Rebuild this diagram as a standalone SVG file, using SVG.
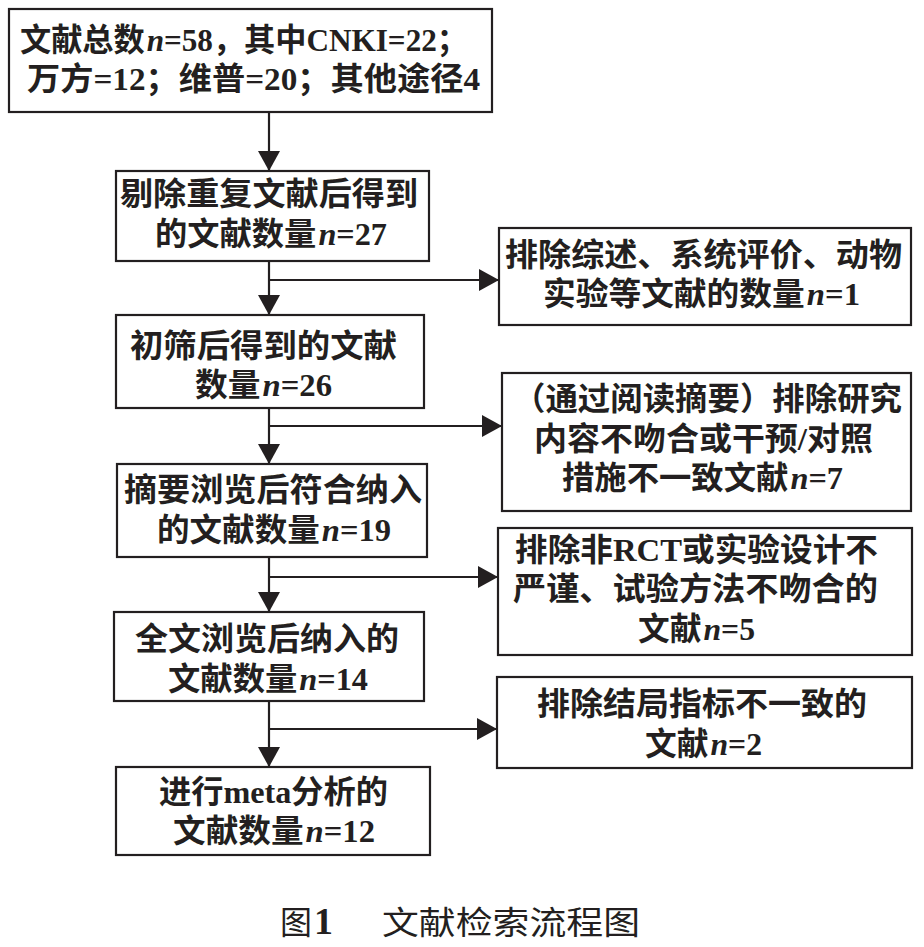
<svg xmlns="http://www.w3.org/2000/svg" width="924" height="947" viewBox="0 0 924 947">
<style>
.box{fill:#fff;stroke:#231f20;stroke-width:2.2}
.t{font-family:"Liberation Serif","Noto Sans CJK SC",serif;font-size:32px;font-weight:bold;fill:#231f20}
.n{font-style:italic}
.cap{font-family:"Liberation Serif","Noto Sans CJK SC",serif;font-size:32px;fill:#231f20}
.ln{fill:none;stroke:#231f20;stroke-width:2.2}
</style>
<defs>
<marker id="ah" markerUnits="userSpaceOnUse" markerWidth="22" markerHeight="22" refX="20" refY="11" orient="auto" viewBox="0 0 22 22">
<path d="M0,0 L20,11 L0,22 z" fill="#231f20"/>
</marker>
</defs>
<rect width="924" height="947" fill="#fff"/>
<g id="connectors">
<line class="ln" x1="269" y1="112" x2="269" y2="171" marker-end="url(#ah)"/>
<line class="ln" x1="269" y1="261" x2="269" y2="315" marker-end="url(#ah)"/>
<line class="ln" x1="269" y1="280" x2="499" y2="280" marker-end="url(#ah)"/>
<line class="ln" x1="269" y1="408" x2="269" y2="464" marker-end="url(#ah)"/>
<line class="ln" x1="269" y1="426" x2="502" y2="426" marker-end="url(#ah)"/>
<line class="ln" x1="269" y1="557" x2="269" y2="612" marker-end="url(#ah)"/>
<line class="ln" x1="269" y1="577" x2="498" y2="577" marker-end="url(#ah)"/>
<line class="ln" x1="269" y1="701" x2="269" y2="767" marker-end="url(#ah)"/>
<line class="ln" x1="269" y1="729" x2="497" y2="729" marker-end="url(#ah)"/>
</g>
<g id="n1">
<rect class="box" x="9" y="9" width="483" height="103"/>
<text class="t" x="20" y="51" textLength="448" lengthAdjust="spacingAndGlyphs">文献总数<tspan class="n" dx="2">n</tspan>=58，其中CNKI=22；</text>
<text class="t" x="27" y="90" textLength="453" lengthAdjust="spacingAndGlyphs">万方=12；维普=20；其他途径4</text>
</g>
<g id="n2">
<rect class="box" x="116" y="171" width="313" height="90"/>
<text class="t" x="120" y="205" textLength="298" lengthAdjust="spacingAndGlyphs">剔除重复文献后得到</text>
<text class="t" x="155" y="245" textLength="232" lengthAdjust="spacingAndGlyphs">的文献数量<tspan class="n" dx="2">n</tspan>=27</text>
</g>
<g id="n3">
<rect class="box" x="116" y="315" width="308" height="93"/>
<text class="t" x="130" y="357" textLength="267" lengthAdjust="spacingAndGlyphs">初筛后得到的文献</text>
<text class="t" x="195" y="396" textLength="137" lengthAdjust="spacingAndGlyphs">数量<tspan class="n" dx="2">n</tspan>=26</text>
</g>
<g id="n4">
<rect class="box" x="117" y="464" width="310" height="93"/>
<text class="t" x="124" y="501" textLength="298" lengthAdjust="spacingAndGlyphs">摘要浏览后符合纳入</text>
<text class="t" x="157" y="541" textLength="234" lengthAdjust="spacingAndGlyphs">的文献数量<tspan class="n" dx="2">n</tspan>=19</text>
</g>
<g id="n5">
<rect class="box" x="114" y="612" width="310" height="89"/>
<text class="t" x="135" y="650" textLength="264" lengthAdjust="spacingAndGlyphs">全文浏览后纳入的</text>
<text class="t" x="168" y="690" textLength="200" lengthAdjust="spacingAndGlyphs">文献数量<tspan class="n" dx="2">n</tspan>=14</text>
</g>
<g id="n6">
<rect class="box" x="116" y="767" width="314" height="88"/>
<text class="t" x="159" y="803" textLength="229" lengthAdjust="spacingAndGlyphs">进行meta分析的</text>
<text class="t" x="173" y="842" textLength="202" lengthAdjust="spacingAndGlyphs">文献数量<tspan class="n" dx="2">n</tspan>=12</text>
</g>
<g id="r1">
<rect class="box" x="499" y="228" width="412" height="97"/>
<text class="t" x="505" y="266" textLength="397" lengthAdjust="spacingAndGlyphs">排除综述、系统评价、动物</text>
<text class="t" x="543" y="305" textLength="317" lengthAdjust="spacingAndGlyphs">实验等文献的数量<tspan class="n" dx="2">n</tspan>=1</text>
</g>
<g id="r2">
<rect class="box" x="502" y="373" width="409" height="138"/>
<text class="t" x="513" y="410" textLength="389" lengthAdjust="spacingAndGlyphs">（通过阅读摘要）排除研究</text>
<text class="t" x="534" y="450" textLength="339" lengthAdjust="spacingAndGlyphs">内容不吻合或干预/对照</text>
<text class="t" x="562" y="489" textLength="281" lengthAdjust="spacingAndGlyphs">措施不一致文献<tspan class="n" dx="2">n</tspan>=7</text>
</g>
<g id="r3">
<rect class="box" x="498" y="528" width="414" height="127"/>
<text class="t" x="515" y="561" textLength="363" lengthAdjust="spacingAndGlyphs">排除非RCT或实验设计不</text>
<text class="t" x="513" y="600" textLength="365" lengthAdjust="spacingAndGlyphs">严谨、试验方法不吻合的</text>
<text class="t" x="638" y="640" textLength="117" lengthAdjust="spacingAndGlyphs">文献<tspan class="n" dx="2">n</tspan>=5</text>
</g>
<g id="r4">
<rect class="box" x="497" y="677" width="415" height="91"/>
<text class="t" x="537" y="715" textLength="330" lengthAdjust="spacingAndGlyphs">排除结局指标不一致的</text>
<text class="t" x="645" y="755" textLength="117" lengthAdjust="spacingAndGlyphs">文献<tspan class="n" dx="2">n</tspan>=2</text>
</g>
<g id="caption">
<text class="cap" x="280" y="934">图</text>
<text class="cap" x="314" y="934" style="font-size:38px;font-weight:bold">1</text>
<text class="cap" x="382" y="934" textLength="258" lengthAdjust="spacingAndGlyphs">文献检索流程图</text>
</g>
</svg>
